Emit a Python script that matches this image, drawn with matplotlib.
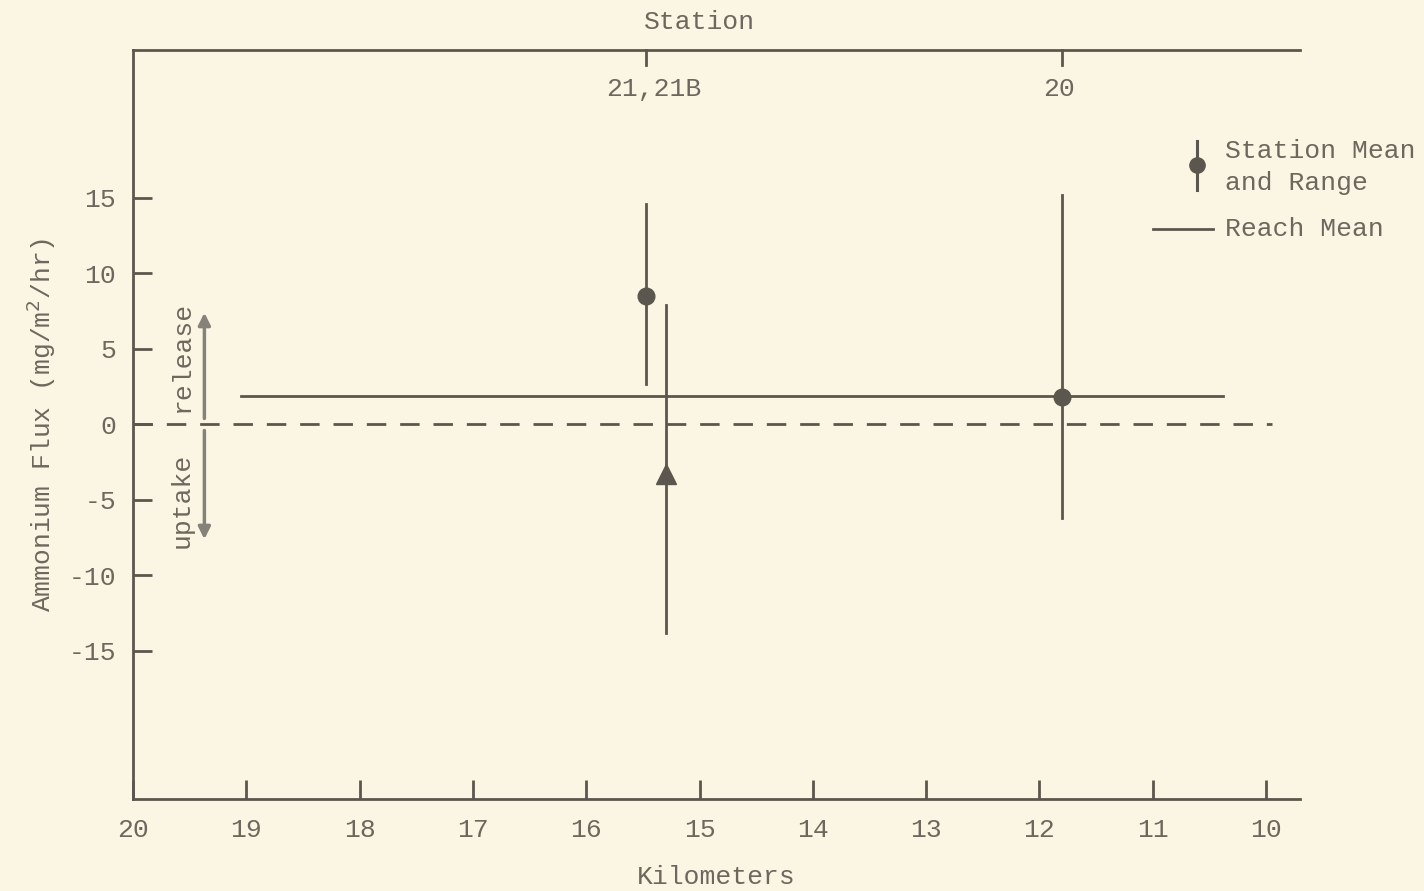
import matplotlib.pyplot as plt
from matplotlib.lines import Line2D

# station data (km downstream marker, mean, range)
station_names = ["21", "21B", "20"]
station_km = [15.47, 15.30, 11.80]
station_mean = [8.5, -3.3, 1.85]
station_low = [2.7, -13.8, -6.2]
station_high = [14.6, 7.9, 15.2]
station_marker = ["o", "^", "o"]

# top axis station labels
top_label_km = [15.40, 11.83]
top_tick_km = [15.47, 11.80]
top_labels = ["21,21B", "20"]

# reach mean
reach_mean = 1.9
reach_km = [19.05, 10.38]
zero_km = [20, 9.95]

xticks = [20, 19, 18, 17, 16, 15, 14, 13, 12, 11, 10]
yticks = [-15, -10, -5, 0, 5, 10, 15]

bg = "#fbf6e4"
ink = "#5b574e"
txt = "#6c685d"
arrow_c = "#85827a"
font = "Liberation Mono"
fs = 19

plt.rcParams["font.family"] = [font, "DejaVu Sans"]
plt.rcParams["axes.unicode_minus"] = False

fig = plt.figure(figsize=(14.24, 8.91), dpi=100, facecolor=bg)
ax = fig.add_axes([0.0934, 0.1033, 0.8196, 0.8406], facecolor=bg)
ax.set_xlim(20, 9.7)
ax.set_ylim(-24.8, 24.8)

for s in ["left", "bottom", "top"]:
    ax.spines[s].set_color(ink)
    ax.spines[s].set_linewidth(2)
ax.spines["right"].set_visible(False)

ax.set_xticks(xticks)
ax.set_yticks(yticks)
ax.tick_params(axis="both", direction="in", length=14, width=2, color=ink,
               labelcolor=txt, labelsize=fs)
ax.tick_params(axis="x", pad=14)
ax.tick_params(axis="y", pad=12)
ax.tick_params(top=False, right=False)

ax.set_xlabel("Kilometers", color=txt, fontsize=fs, labelpad=16)
ax.set_ylabel("Ammonium Flux (mg/m$^{2}$/hr)", color=txt, fontsize=fs, labelpad=8)

# top station axis
for km, lab in zip(top_tick_km, top_labels):
    ax.plot([km, km], [24.8, 23.8], color=ink, lw=2, clip_on=False)
for km, lab in zip(top_label_km, top_labels):
    ax.text(km, 22.2, lab, ha="center", va="center", color=txt, fontsize=fs)
fig.text(0.491, 0.975, "Station", ha="center", va="center", color=txt, fontsize=fs)

# zero line and reach mean
ax.plot(zero_km, [0, 0], color=ink, lw=2, dashes=(7, 5))
ax.plot(reach_km, [reach_mean, reach_mean], color=ink, lw=2)

# station means and ranges
for km, m, lo, hi, mk in zip(station_km, station_mean, station_low,
                             station_high, station_marker):
    ax.plot([km, km], [lo, hi], color=ink, lw=2)
    ax.plot(km, m, marker=mk, color=ink, markersize=12 if mk == "o" else 14,
            linestyle="none")

# release / uptake arrows
ax.annotate("", xy=(19.37, 7.4), xytext=(19.37, 0.4),
            arrowprops=dict(arrowstyle="-|>", color=arrow_c, lw=2.5,
                            mutation_scale=18, shrinkA=0, shrinkB=0))
ax.annotate("", xy=(19.37, -7.6), xytext=(19.37, -0.4),
            arrowprops=dict(arrowstyle="-|>", color=arrow_c, lw=2.5,
                            mutation_scale=18, shrinkA=0, shrinkB=0))
ax.text(19.57, 4.5, "release", rotation=90, ha="center", va="center",
        color=txt, fontsize=fs)
ax.text(19.57, -5.0, "uptake", rotation=90, ha="center", va="center",
        color=txt, fontsize=fs)

# legend
fig.add_artist(Line2D([0.8406, 0.8406], [0.787, 0.842], color=ink, lw=2.2,
                      transform=fig.transFigure))
fig.add_artist(Line2D([0.8406], [0.815], marker="o", markersize=11, color=ink,
                      transform=fig.transFigure))
fig.text(0.860, 0.831, "Station Mean", color=txt, fontsize=fs, va="center")
fig.text(0.860, 0.795, "and Range", color=txt, fontsize=fs, va="center")
fig.add_artist(Line2D([0.810, 0.852], [0.743, 0.743], color=ink, lw=2,
                      transform=fig.transFigure))
fig.text(0.860, 0.743, "Reach Mean", color=txt, fontsize=fs, va="center")

fig.savefig("out.png", dpi=100, facecolor=bg)
